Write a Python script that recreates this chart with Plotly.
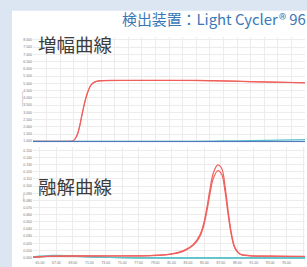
import plotly.graph_objects as go
from plotly.subplots import make_subplots

# ---------------- data ----------------
# Amplification curve (cycle vs fluorescence)
amp_cycle = [0, 5.5, 5.9, 6.4, 6.8, 7.2, 7.6, 8.0, 8.4, 8.8, 9.3, 10, 12, 16, 20, 24, 28, 32, 36, 40]
amp_red_a = [1.00, 1.00, 1.03, 1.35, 1.95, 2.85, 3.70, 4.35, 4.80, 5.02, 5.14, 5.19, 5.21, 5.21, 5.21, 5.20, 5.17, 5.12, 5.08, 5.04]
amp_red_b = [1.00, 1.00, 1.02, 1.30, 1.88, 2.78, 3.63, 4.30, 4.76, 4.99, 5.12, 5.17, 5.19, 5.20, 5.20, 5.19, 5.16, 5.11, 5.07, 5.03]
neg_cycle = [0, 8, 16, 24, 28, 32, 36, 40]
neg_teal = [1.00, 1.00, 1.00, 1.00, 1.02, 1.05, 1.08, 1.11]
neg_purple = [0.96, 0.96, 0.96, 0.96, 0.96, 0.95, 0.95, 0.95]
neg_blue = [0.99, 0.99, 0.99, 0.99, 0.99, 0.99, 0.99, 0.99]
amp_yticks = [1.0, 1.5, 2.0, 2.5, 3.0, 3.5, 4.0, 4.5, 5.0, 5.5, 6.0, 6.5, 7.0, 7.5, 8.0]

# Melting curve (temperature vs -dF/dT)
melt_temp = [64.15, 66, 70, 75, 78.4, 80.8, 82.4, 83.65, 84.46, 84.87, 85.28, 85.68, 86.08, 86.62,
             87.10, 87.51, 87.91, 88.32, 88.72, 89.33, 90.55, 93, 97.24]
melt_red_a = [0.0008, 0.0020, 0.0025, 0.0025, 0.0030, 0.0050, 0.0095, 0.0186, 0.0322, 0.0458, 0.0685, 0.0957, 0.1180, 0.1296,
              0.1250, 0.1000, 0.0638, 0.0322, 0.0141, 0.0051, 0.0029, 0.0022, 0.0018]
melt_red_b = [0.0006, 0.0018, 0.0023, 0.0024, 0.0028, 0.0046, 0.0088, 0.0172, 0.0298, 0.0425, 0.0637, 0.0893, 0.1105, 0.1215,
              0.1165, 0.0925, 0.0585, 0.0292, 0.0128, 0.0047, 0.0027, 0.0021, 0.0017]
melt_neg_temp = [64.15, 66.5, 69, 72, 76, 85, 97.24]
melt_neg_teal = [0.0010, 0.0030, 0.0025, 0.0012, 0.0000, -0.0003, -0.0003]
melt_neg_green = [0.0006, 0.0020, 0.0018, 0.0008, -0.0002, -0.0004, -0.0004]
melt_xticks = [65, 67, 69, 71, 73, 75, 77, 79, 81, 83, 85, 87, 89, 91, 93, 95, 97]
melt_yticks = [0.00, 0.01, 0.02, 0.03, 0.04, 0.05, 0.06, 0.07, 0.08, 0.09, 0.10, 0.11, 0.12, 0.13, 0.14, 0.15]

title_text = "検出装置：Light Cycler® 96"
amp_label = "増幅曲線"
melt_label = "融解曲線"

RED = "#f0605c"
TEAL = "#5cc4cc"
PURPLE = "#a8a0dc"
BLUE = "#4a70b8"
GREEN = "#3a9a8a"
GRID = "#ececec"
TICK = "#777777"
BAND = "#dce6f2"

fig = make_subplots(rows=2, cols=1, shared_xaxes=False, vertical_spacing=0.0)

# amplification traces
fig.add_trace(go.Scatter(x=amp_cycle, y=amp_red_a, mode="lines", line=dict(color=RED, width=1.2), line_shape="spline"), row=1, col=1)
fig.add_trace(go.Scatter(x=amp_cycle, y=amp_red_b, mode="lines", line=dict(color=RED, width=1.0), line_shape="spline"), row=1, col=1)
fig.add_trace(go.Scatter(x=neg_cycle, y=neg_purple, mode="lines", line=dict(color=PURPLE, width=1.2)), row=1, col=1)
fig.add_trace(go.Scatter(x=neg_cycle, y=neg_teal, mode="lines", line=dict(color=TEAL, width=1.2), line_shape="spline"), row=1, col=1)
fig.add_trace(go.Scatter(x=neg_cycle, y=neg_blue, mode="lines", line=dict(color=BLUE, width=1.0)), row=1, col=1)

# melting traces
fig.add_trace(go.Scatter(x=melt_neg_temp, y=melt_neg_green, mode="lines", line=dict(color=GREEN, width=1.0), line_shape="spline"), row=2, col=1)
fig.add_trace(go.Scatter(x=melt_neg_temp, y=melt_neg_teal, mode="lines", line=dict(color=TEAL, width=1.6), line_shape="spline"), row=2, col=1)
fig.add_trace(go.Scatter(x=melt_temp, y=melt_red_a, mode="lines", line=dict(color=RED, width=1.2), line_shape="spline"), row=2, col=1)
fig.add_trace(go.Scatter(x=melt_temp, y=melt_red_b, mode="lines", line=dict(color=RED, width=1.2), line_shape="spline"), row=2, col=1)

tickfont = dict(size=3.5, color=TICK, family="Liberation Sans")

fig.update_xaxes(row=1, col=1, range=[0, 40], dtick=2, showticklabels=False, showgrid=True,
                 gridcolor=GRID, gridwidth=1, zeroline=False, showline=False, domain=[0, 1])
fig.update_yaxes(row=1, col=1, range=[0.933, 8.202], tickvals=amp_yticks, tickformat=".3f",
                 tickfont=tickfont, showgrid=True, gridcolor=GRID, zeroline=False, showline=False,
                 domain=[0.526, 1], ticklen=0)
fig.update_xaxes(row=2, col=1, range=[64.15, 97.24], tickvals=melt_xticks, tickformat=".2f",
                 tickfont=tickfont, showgrid=True, gridcolor=GRID, zeroline=False, showline=False, ticklen=0)
fig.update_yaxes(row=2, col=1, range=[-0.0018, 0.1545], tickvals=melt_yticks, tickformat=".3f",
                 tickfont=tickfont, showgrid=True, gridcolor=GRID, zeroline=False, showline=False,
                 domain=[0, 0.504], ticklen=0)

# px -> paper helpers (plot area: x 33..305, y 37..265)
def px(x):
    return (x - 33) / 272.0

def py(y):
    return (265 - y) / 228.0

fig.add_shape(type="rect", xref="paper", yref="paper", x0=-0.2, x1=px(12), y0=-0.2, y1=1.3,
              fillcolor=BAND, line=dict(width=0))
fig.add_shape(type="rect", xref="paper", yref="paper", x0=-0.2, x1=1.2, y0=py(10), y1=1.3,
              fillcolor=BAND, line=dict(width=0))

fig.add_annotation(text=title_text, xref="paper", yref="paper", x=px(307.5), y=py(18), xanchor="right",
                   yanchor="middle", showarrow=False,
                   font=dict(size=14.9, color="#3a78b8", family="Noto Sans CJK JP"))
fig.add_annotation(text=amp_label, xref="paper", yref="paper", x=px(35.5), y=py(44), xanchor="left",
                   yanchor="middle", showarrow=False,
                   font=dict(size=18.5, color="#3c3c3c", family="Noto Sans CJK JP"))
fig.add_annotation(text=melt_label, xref="paper", yref="paper", x=px(35.5), y=py(190), xanchor="left",
                   yanchor="middle", showarrow=False,
                   font=dict(size=18.5, color="#3c3c3c", family="Noto Sans CJK JP"))
fig.add_annotation(text="Fluorescence", xref="paper", yref="paper", x=px(19.5), y=py(90), textangle=-90,
                   showarrow=False, font=dict(size=2.5, color=TICK, family="Liberation Sans"))
fig.add_annotation(text="-dF/dT", xref="paper", yref="paper", x=px(19.5), y=py(208), textangle=-90,
                   showarrow=False, font=dict(size=2.5, color=TICK, family="Liberation Sans"))

fig.update_layout(
    width=307, height=267,
    margin=dict(l=33, r=2, t=37, b=2),
    paper_bgcolor="white", plot_bgcolor="white",
    showlegend=False,
)

fig.write_html(
    "out.html",
    config={"displayModeBar": False},
    post_script="document.body.style.margin='0';document.body.style.padding='0';document.body.style.overflow='hidden';",
)
